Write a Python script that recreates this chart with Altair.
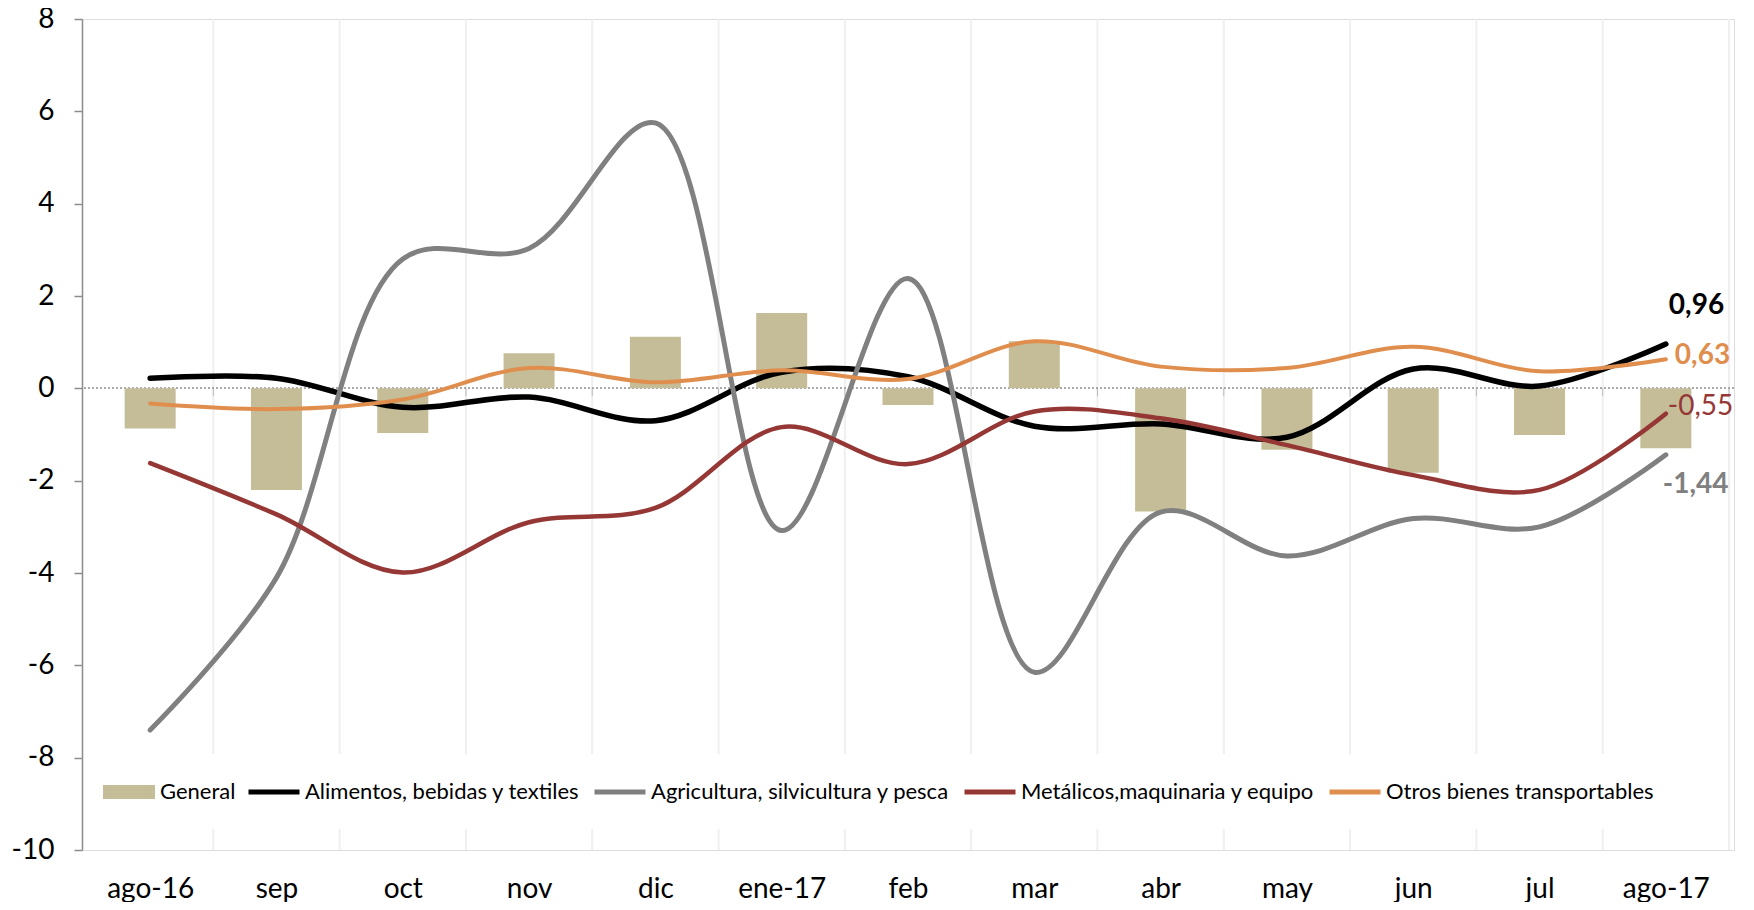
import json
import altair as alt
import pandas as pd

MONTHS = ["ago-16", "sep", "oct", "nov", "dic", "ene-17", "feb", "mar", "abr", "may", "jun", "jul", "ago-17"]
GENERAL = [-0.87, -2.2, -0.97, 0.76, 1.12, 1.63, -0.36, 1.02, -2.67, -1.33, -1.83, -1.01, -1.3]
ALIMENTOS = [0.22, 0.22, -0.41, -0.19, -0.7, 0.35, 0.25, -0.82, -0.77, -1.06, 0.42, 0.05, 0.96]
AGRICULTURA = [-7.4, -4.1, 2.8, 3.03, 5.75, -3.08, 2.38, -6.15, -2.68, -3.63, -2.82, -3.0, -1.44]
METALICOS = [-1.62, -2.73, -3.99, -2.9, -2.59, -0.84, -1.64, -0.5, -0.65, -1.23, -1.88, -2.2, -0.55]
OTROS = [-0.33, -0.45, -0.24, 0.44, 0.13, 0.39, 0.2, 1.02, 0.47, 0.44, 0.9, 0.37, 0.63]

SERIES = ["Alimentos, bebidas y textiles", "Agricultura, silvicultura y pesca",
          "Metálicos,maquinaria y equipo", "Otros bienes transportables"]
COLORS = ["#000000", "#808080", "#953735", "#E08E4E"]
WIDTHS = [5.5, 4, 4, 4]
BAR_COLOR = "#C4BD97"
FONT = "Lato"

n = len(MONTHS)
idx = list(range(n))

bars_df = pd.DataFrame({"idx": idx, "value": GENERAL, "s": ["General"] * n})
long_rows = []
for name, vals in zip(SERIES, [ALIMENTOS, AGRICULTURA, METALICOS, OTROS]):
    for i, v in enumerate(vals):
        long_rows.append({"idx": i, "value": v, "series": name})
lines_df = pd.DataFrame(long_rows)
grid_df = pd.DataFrame({"b": [i + 0.5 for i in range(n)]})

xscale = alt.Scale(domain=[-0.5, n - 0.5], nice=False, zero=False)
yscale = alt.Scale(domain=[-10, 8], nice=False)

label_expr = json.dumps(MONTHS) + "[datum.value]"

x_axis = alt.Axis(values=idx, labelExpr=label_expr, domain=False, ticks=False, grid=False,
                  labelFont=FONT, labelFontSize=28, labelColor="#000", labelPadding=25,
                  title=None, labelFlush=False, labelOverlap=False)
y_axis = alt.Axis(values=list(range(-10, 9, 2)), labelExpr="'' + datum.value", grid=False,
                  domainColor="#8C8C8C", domainWidth=1.5, tickColor="#8C8C8C", tickWidth=1.5,
                  tickSize=8, labelFont=FONT, labelFontSize=28, labelColor="#000",
                  labelPadding=20, title=None)

X = alt.X("idx:Q", scale=xscale, axis=x_axis)
Y = alt.Y("value:Q", scale=yscale, axis=y_axis)

grid = alt.Chart(grid_df).mark_rule(color="#EFEFEF", strokeWidth=2).encode(
    x=alt.X("b:Q", scale=xscale, axis=x_axis), y=alt.value(0), y2=alt.value(831))

white = alt.Chart(grid_df).mark_rect(color="white").encode(
    x=alt.value(10), x2=alt.value(1600), y=alt.value(735), y2=alt.value(810))

zero = alt.Chart(bars_df).mark_rule(color="#A6A6A6", strokeDash=[2, 2], strokeWidth=1).encode(
    y=alt.Y("z:Q", scale=yscale, axis=y_axis)).transform_calculate(z="0")

zticks = alt.Chart(grid_df).mark_tick(color="#A6A6A6", orient="vertical", size=8, yOffset=4,
                                      thickness=1).encode(
    x=alt.X("b:Q", scale=xscale, axis=x_axis), y=alt.Y("z:Q", scale=yscale, axis=y_axis)
).transform_calculate(z="0")

bars = alt.Chart(bars_df).mark_bar(size=51).encode(
    x=X, y=Y,
    fill=alt.Fill("s:N", scale=alt.Scale(domain=["General"], range=[BAR_COLOR]),
                  legend=alt.Legend(orient="none", legendX=21, legendY=747, title=None,
                                    direction="horizontal", padding=0,
                                    symbolType="M-1,-0.27L1,-0.27L1,0.27L-1,0.27Z",
                                    symbolSize=2704, symbolStrokeWidth=0, labelFont=FONT,
                                    labelFontSize=22, labelColor="#000", labelOffset=5)),
)

lines = alt.Chart(lines_df).mark_line(interpolate="catmull-rom", strokeCap="round").encode(
    x=X, y=Y,
    stroke=alt.Stroke("series:N", sort=SERIES, scale=alt.Scale(domain=SERIES, range=COLORS),
                      legend=alt.Legend(orient="none", legendX=164, legendY=745, title=None,
                                        direction="horizontal", padding=0, symbolType="stroke",
                                        symbolSize=2601, symbolStrokeWidth=5, columnPadding=4,
                                        labelFont=FONT, labelFontSize=22, labelColor="#000",
                                        labelOffset=3, labelLimit=400)),
    strokeWidth=alt.StrokeWidth("series:N", scale=alt.Scale(domain=SERIES, range=WIDTHS), legend=None),
    order=alt.Order("idx:Q"),
)

end_df = pd.DataFrame({
    "idx": [n - 1] * 4,
    "value": [ALIMENTOS[-1], OTROS[-1], METALICOS[-1], AGRICULTURA[-1]],
    "txt": [f"{v:.2f}".replace(".", ",") for v in [ALIMENTOS[-1], OTROS[-1], METALICOS[-1], AGRICULTURA[-1]]],
})

def end_label(i, color, weight, dx, dy):
    return alt.Chart(end_df.iloc[[i]]).mark_text(
        align="left", baseline="middle", font=FONT, fontSize=28, fontWeight=weight,
        color=color, dx=dx, dy=dy).encode(x=X, y=Y, text="txt:N")

labels = [
    end_label(0, "#000000", "bold", 3, -38),
    end_label(1, "#E08E4E", "bold", 9, -3),
    end_label(2, "#953735", "normal", 2, -7),
    end_label(3, "#808080", "bold", -3, 30),
]

chart = alt.layer(grid, white, zero, zticks, bars, lines, *labels).resolve_scale(
    fill="independent", stroke="independent"
).properties(
    width=1652, height=831,
    autosize=alt.AutoSizeParams(type="none"),
    padding={"left": 74, "top": 11, "right": 12, "bottom": 52},
).configure_view(stroke=None).configure(background="white")

chart.save("out.html", embed_options={"renderer": "svg", "actions": False})
